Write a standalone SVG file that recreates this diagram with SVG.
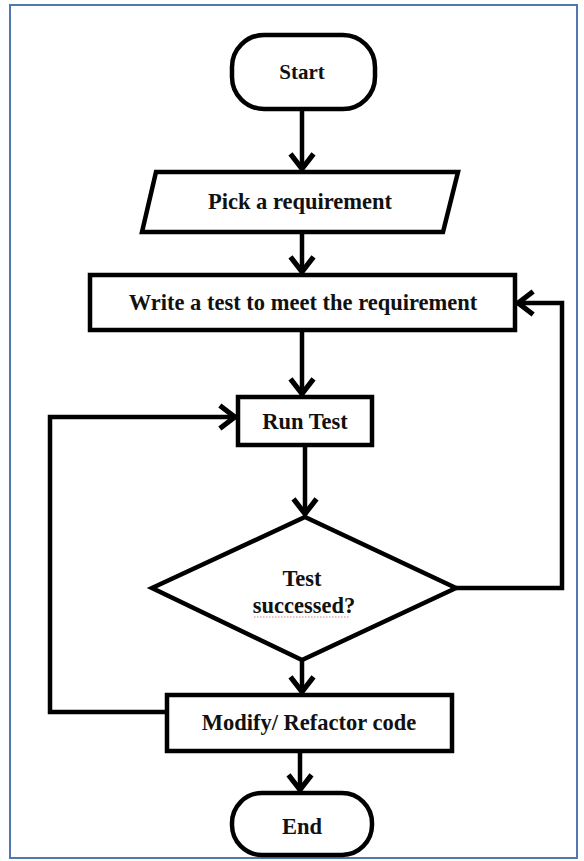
<svg xmlns="http://www.w3.org/2000/svg" width="584" height="861" viewBox="0 0 584 861">
<style>
.shape{fill:#fff;stroke:#000;stroke-width:4.5;stroke-linejoin:miter}
.conn{fill:none;stroke:#000;stroke-width:4.5;stroke-linejoin:miter}
.lbl{font-family:"Liberation Serif","Times New Roman",serif;font-weight:bold;font-size:22.5px;fill:#111;text-anchor:middle}
</style>
<defs>
<marker id="arr" markerUnits="userSpaceOnUse" markerWidth="30" markerHeight="30" viewBox="-16 -13 20 26" refX="1" refY="0" orient="auto">
<path d="M-13,-10 L0,0 L-13,10" fill="none" stroke="#000" stroke-width="4.5" stroke-linejoin="miter"/>
</marker>
</defs>
<rect x="0" y="0" width="584" height="861" fill="#fff"/>
<rect x="10" y="5" width="567" height="853" fill="none" stroke="#4f78b0" stroke-width="2"/>
<g id="connectors">
<path class="conn" d="M302,109 V170" marker-end="url(#arr)"/>
<path class="conn" d="M302,232 V273" marker-end="url(#arr)"/>
<path class="conn" d="M302,330 V395" marker-end="url(#arr)"/>
<path class="conn" d="M305,445 V515" marker-end="url(#arr)"/>
<path class="conn" d="M302,660 V693" marker-end="url(#arr)"/>
<path class="conn" d="M300,751 V791" marker-end="url(#arr)"/>
<path class="conn" d="M167,712 H50 V417 H236" marker-end="url(#arr)"/>
<path class="conn" d="M456,588 H562 V303 H517" marker-end="url(#arr)"/>
</g>
<g id="start">
<rect class="shape" x="232" y="35" width="143" height="74" rx="32" ry="32"/>
<text class="lbl" x="302" y="79" style="font-size:21px">Start</text>
</g>
<g id="pick">
<polygon class="shape" points="156,172 458,172 443,232 142,232"/>
<text class="lbl" x="300" y="209">Pick a requirement</text>
</g>
<g id="write">
<rect class="shape" x="90" y="275" width="425" height="55"/>
<text class="lbl" x="303" y="310">Write a test to meet the requirement</text>
</g>
<g id="run">
<rect class="shape" x="238" y="397" width="134" height="48"/>
<text class="lbl" x="305" y="429">Run Test</text>
</g>
<g id="decision">
<polygon class="shape" points="305,517 456,588 302,660 152,588"/>
<text class="lbl" x="302" y="586">Test</text>
<text class="lbl" x="304" y="613">successed?</text>
<line x1="254" y1="617" x2="350" y2="617" stroke="#d08080" stroke-width="1" stroke-dasharray="1.5,1.5"/>
</g>
<g id="modify">
<rect class="shape" x="167" y="695" width="285" height="56"/>
<text class="lbl" x="309" y="730">Modify/ Refactor code</text>
</g>
<g id="end">
<rect class="shape" x="232" y="793" width="140" height="62" rx="30" ry="30"/>
<text class="lbl" x="302" y="834">End</text>
</g>
</svg>
